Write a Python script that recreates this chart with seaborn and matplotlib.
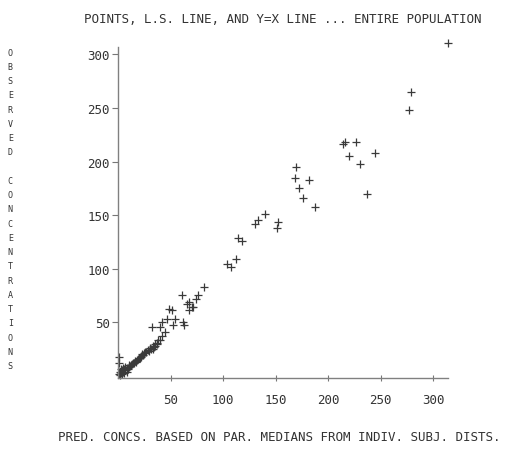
import matplotlib
matplotlib.use("Agg")
import matplotlib.pyplot as plt
import pandas as pd
import seaborn as sns

# values
pred = [314, 279, 277,
        214, 216, 226, 220, 230, 244, 237,
        169, 168, 182, 172, 176, 187,
        140, 133, 130, 152, 151,
        114, 118, 112, 104, 107,
        82, 76, 74, 71, 66, 67, 61, 70, 67,
        48, 51, 47, 54, 62, 42, 52, 63, 40,
        32, 35, 33, 37, 45, 42, 40,
        1, 1,
        1, 2, 2, 3, 3, 4, 4, 5, 5, 6, 6, 7, 7, 8, 8, 9, 10, 10, 11, 12,
        13, 14, 15, 16, 17, 18, 19, 20, 21, 22, 23, 24, 25, 26, 27, 28,
        29, 30, 31, 33, 34, 35, 37, 38]
obs = [311, 265, 248,
       216, 218, 218, 205, 198, 208, 170,
       195, 185, 183, 175, 166, 158,
       151, 145, 142, 144, 138,
       129, 126, 109, 104, 102,
       83, 75, 72, 64, 67, 61, 75, 64, 69,
       62, 61, 53, 53, 50, 50, 47, 47, 46,
       46, 28, 25, 30, 41, 37, 33,
       18, 12,
       2, 1, 4, 3, 6, 2, 5, 4, 7, 3, 6, 5, 8, 4, 7, 6, 8, 10, 9, 10,
       11, 12, 12, 14, 13, 15, 16, 17, 17, 18, 20, 19, 21, 22, 22, 24,
       23, 26, 25, 28, 27, 30, 31, 33]

x_ticks = [50, 100, 150, 200, 250, 300]
y_ticks = [50, 100, 150, 200, 250, 300]

title = "POINTS, L.S. LINE, AND Y=X LINE ... ENTIRE POPULATION"
x_label = "PRED. CONCS. BASED ON PAR. MEDIANS FROM INDIV. SUBJ. DISTS."
y_label = "OBSERVED CONCENTRATIONS"

df = pd.DataFrame({"pred": pred, "obs": obs})

sns.set_theme(style="white")
plt.rcParams["font.family"] = ["DejaVu Sans Mono"]
ink = "#333333"

fig = plt.figure(figsize=(5.18, 4.56), dpi=100)
ax = fig.add_axes([0.228, 0.169, 0.637, 0.726])

sns.scatterplot(data=df, x="pred", y="obs", marker="+", color="#3a3a3a",
                s=28, linewidth=0.9, ax=ax, clip_on=False, legend=False)

ax.set_xlim(0, 314)
ax.set_ylim(-2, 307)
ax.set_xticks(x_ticks)
ax.set_yticks(y_ticks)
ax.tick_params(axis="x", direction="inout", length=5, width=0.8, color="#777777",
               labelsize=9, labelcolor=ink, pad=8, bottom=True)
ax.tick_params(axis="y", direction="out", length=4, width=0.8, color="#777777",
               labelsize=9, labelcolor=ink, pad=2, left=True)

for side in ["top", "right"]:
    ax.spines[side].set_visible(False)
for side in ["left", "bottom"]:
    ax.spines[side].set_color("#808080")
    ax.spines[side].set_linewidth(1.0)

ax.set_xlabel("")
ax.set_ylabel("")
ax.set_title(title, fontsize=9, color=ink, pad=18)
fig.text(0.54, 0.04, x_label, ha="center", va="center", fontsize=9, color=ink)
fig.text(0.02, 0.54, "\n".join(y_label), ha="center", va="center",
         fontsize=6, color=ink, linespacing=1.75)

fig.savefig("out.png", dpi=100, facecolor="white")
